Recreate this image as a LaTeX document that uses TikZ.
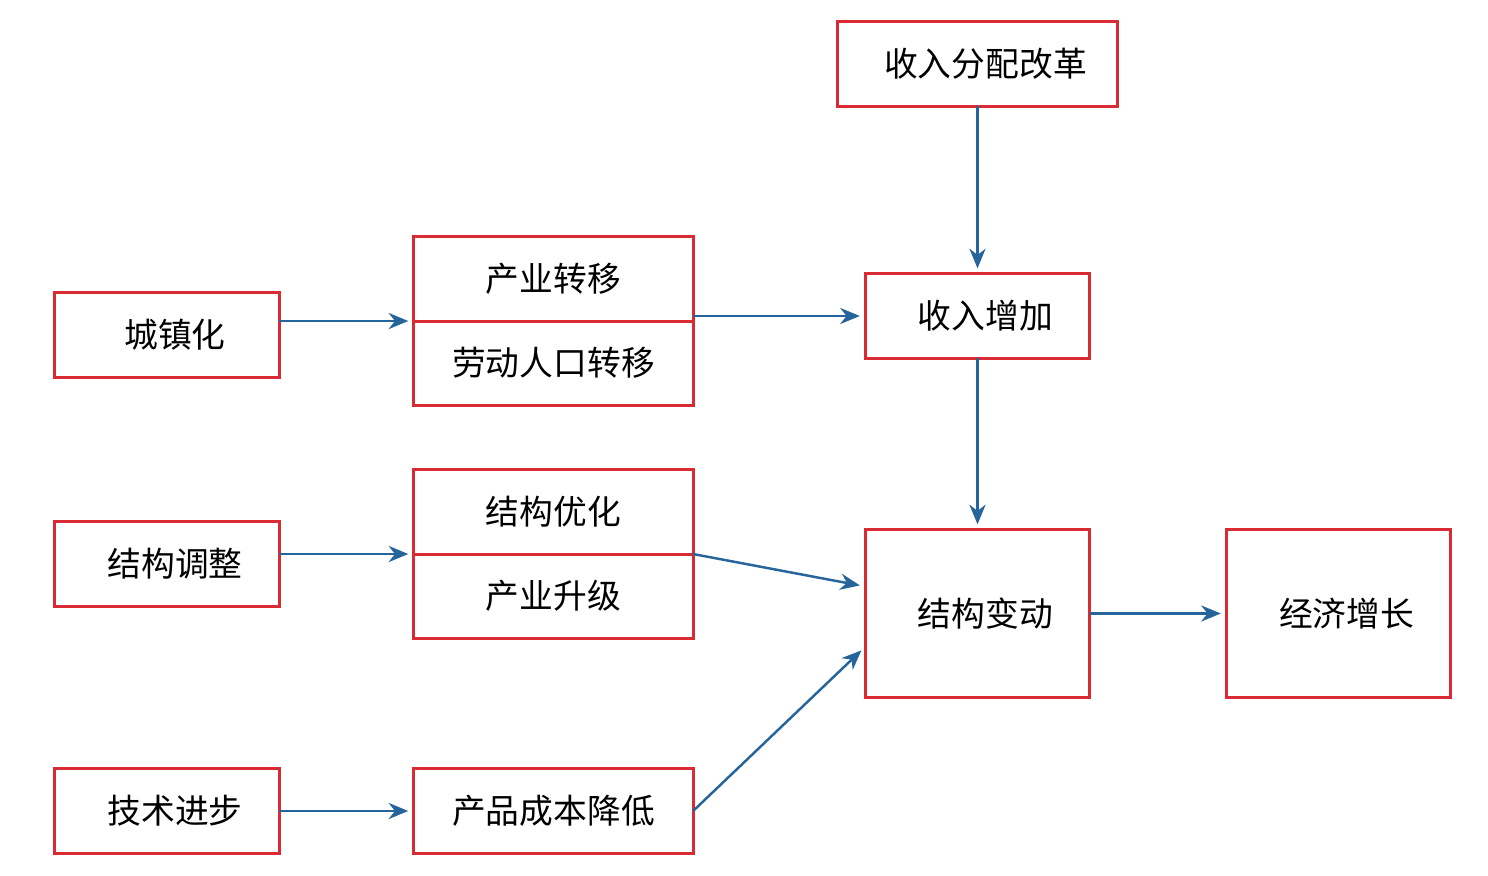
\documentclass[tikz,border=0pt]{standalone}
\usepackage{fontspec}
\newfontfamily\cjk{Noto Sans CJK SC}
\usetikzlibrary{positioning,arrows.meta}
\definecolor{boxred}{RGB}{218,42,52}
\definecolor{arrowblue}{RGB}{38,100,156}

\begin{document}
\begin{tikzpicture}[
    x=0.01cm,
    y=-0.01cm,
    >=Stealth,
    box/.style={
        draw=boxred,
        line width=0.85pt,
        minimum width=2.24cm,
        minimum height=0.84cm,
        inner sep=0pt,
        outer sep=0pt,
        align=center,
        font=\cjk\fontsize{9.6}{11}\selectfont
    },
    widebox/.style={
        box,
        minimum width=2.79cm
    },
    offtext/.style={
        execute at begin node={\hspace*{0.16cm}}
    },
    arrow/.style={
        draw=arrowblue,
        line width=0.7pt,
        shorten >=1.6pt,
        arrows={-{Stealth[length=5.6pt,width=4.6pt]}}
    }
]
\useasboundingbox (0,0) rectangle (1488,876);

%------------------------------------------------
% Left column
%------------------------------------------------

\node[box,offtext] (city) at (167,335) {城镇化};
\node[box,offtext] (adjust) at (167,564) {结构调整};
\node[box,offtext] (tech) at (167,811) {技术进步};

%------------------------------------------------
% Middle column
%------------------------------------------------

\node[widebox] (shift) at (553.5,279) {产业转移};
\node[widebox,below=0pt of shift] (labor) {劳动人口转移};

\node[widebox] (optim) at (553.5,512) {结构优化};
\node[widebox,below=0pt of optim] (upgrade) {产业升级};

\node[widebox] (cost) at (553.5,811) {产品成本降低};

%------------------------------------------------
% Right part
%------------------------------------------------

\node[widebox,offtext] (reform) at (977.5,64) {收入分配改革};
\node[box,offtext] (income) at (977.5,316) {收入增加};
\node[box,offtext,minimum height=1.67cm] (change) at (977.5,613.5) {结构变动};
\node[box,offtext,minimum height=1.67cm] (growth) at (1338.5,613.5) {经济增长};

%------------------------------------------------
% Connectors
%------------------------------------------------

\draw[arrow] (city.east |- shift.south) -- (shift.south west);
\draw[arrow] (adjust.east |- optim.south) -- (optim.south west);
\draw[arrow] (tech) -- (cost);

\draw[arrow] (income.west -| shift.east) -- (income.west);
\draw[arrow] (reform) -- (income);
\draw[arrow] (income) -- (change);

\draw[arrow] (optim.south east) -- ([yshift=0.27cm]change.west);
\draw[arrow] (cost.east) -- ([yshift=-0.33cm]change.west);

\draw[arrow] (change) -- (growth);

\end{tikzpicture}
\end{document}
